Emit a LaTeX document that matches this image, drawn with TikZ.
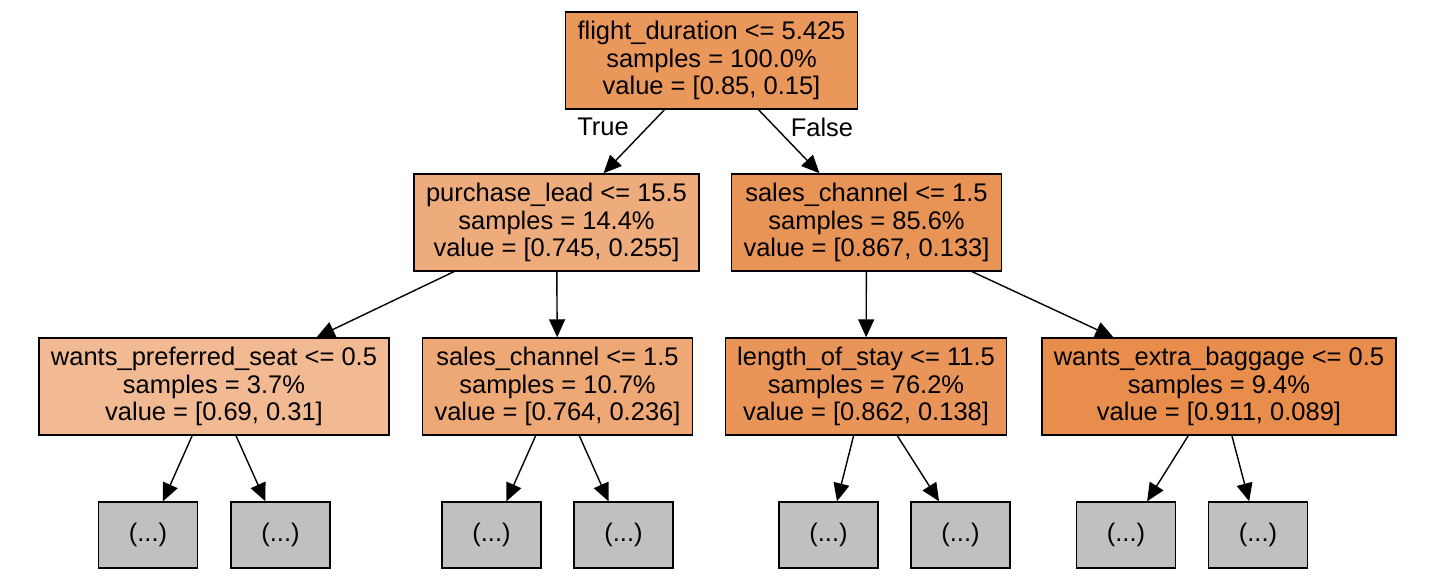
\documentclass[tikz,border=0pt]{standalone}
\usepackage{fontspec}
\setmainfont{Liberation Sans}
\usepackage{tikz}
\usetikzlibrary{arrows.meta, shapes, positioning}
\definecolor{c0}{RGB}{234,151,92}
\definecolor{c1}{RGB}{238,172,125}
\definecolor{c2}{RGB}{233,148,87}
\definecolor{c3}{RGB}{241,186,146}
\definecolor{c4}{RGB}{237,168,118}
\definecolor{c5}{RGB}{233,149,89}
\definecolor{c6}{RGB}{232,141,76}
\definecolor{leafgray}{RGB}{192,192,192}
\tikzstyle{split} = [rectangle, draw=black, line width=1.4pt, minimum height=97pt, inner xsep=12pt, align=center, font=\fontsize{25.5}{27.5}\selectfont]
\tikzstyle{leaf} = [rectangle, draw=black, line width=1.4pt, fill=leafgray, minimum width=99pt, minimum height=66pt, font=\fontsize{25.5}{27.5}\selectfont]
\tikzstyle{arrow} = [line width=1.4pt, -{Triangle[length=18pt, width=16pt]}]

\begin{document}
\begin{tikzpicture}[x=1pt, y=1pt]
\useasboundingbox[fill=white] (0,0) rectangle (1436,578);
% level 0
\node[split, fill=c0] (root) at (711.5,517.5) {flight\_duration <= 5.425\\samples = 100.0\%\\value = [0.85, 0.15]};
% level 1
\node[split, fill=c1] (lead) at (556.5,355.5) {purchase\_lead <= 15.5\\samples = 14.4\%\\value = [0.745, 0.255]};
\node[split, fill=c2] (chan) at (866.5,355.5) {sales\_channel <= 1.5\\samples = 85.6\%\\value = [0.867, 0.133]};
% level 2
\node[split, fill=c3] (seat) at (214,191.5) {wants\_preferred\_seat <= 0.5\\samples = 3.7\%\\value = [0.69, 0.31]};
\node[split, fill=c4] (chanb) at (557.5,191.5) {sales\_channel <= 1.5\\samples = 10.7\%\\value = [0.764, 0.236]};
\node[split, fill=c5] (stay) at (866,191.5) {length\_of\_stay <= 11.5\\samples = 76.2\%\\value = [0.862, 0.138]};
\node[split, fill=c6] (bag) at (1219,191.5) {wants\_extra\_baggage <= 0.5\\samples = 9.4\%\\value = [0.911, 0.089]};
% leaves
\node[leaf] (l1) at (148,43) {(...)};
\node[leaf] (l2) at (280.5,43) {(...)};
\node[leaf] (l3) at (491.5,43) {(...)};
\node[leaf] (l4) at (623.5,43) {(...)};
\node[leaf] (l5) at (828.5,43) {(...)};
\node[leaf] (l6) at (960.5,43) {(...)};
\node[leaf] (l7) at (1126,43) {(...)};
\node[leaf] (l8) at (1258,43) {(...)};
\node[font=\fontsize{25.5}{27.5}\selectfont] (true) at (603,451) {True};
\node[font=\fontsize{25.5}{27.5}\selectfont] (false) at (822,451) {False};
\draw[arrow] (root) -- (lead);
\draw[arrow] (root) -- (chan);
\draw[arrow] (lead) -- (seat);
\draw[arrow] (lead) -- (chanb);
\draw[arrow] (chan) -- (stay);
\draw[arrow] (chan) -- (bag);
\draw[arrow] (seat) -- (l1);
\draw[arrow] (seat) -- (l2);
\draw[arrow] (chanb) -- (l3);
\draw[arrow] (chanb) -- (l4);
\draw[arrow] (stay) -- (l5);
\draw[arrow] (stay) -- (l6);
\draw[arrow] (bag) -- (l7);
\draw[arrow] (bag) -- (l8);
\end{tikzpicture}
\end{document}
